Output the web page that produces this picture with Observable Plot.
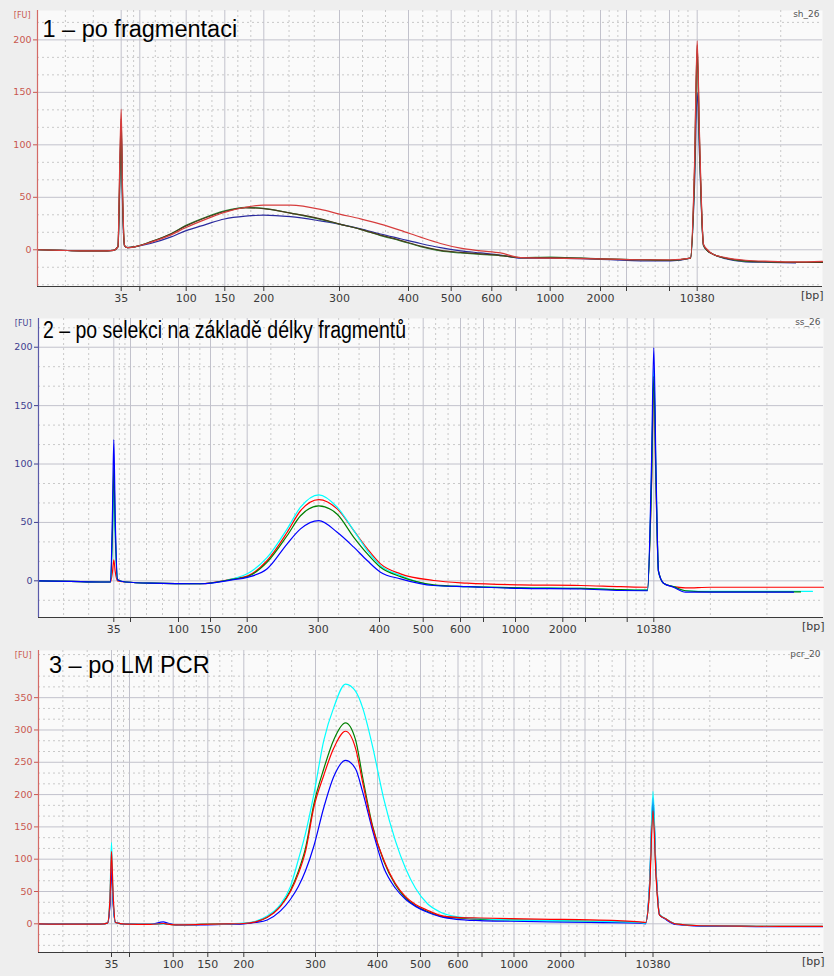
<!DOCTYPE html>
<html>
<head>
<meta charset="utf-8">
<script src="https://cdn.jsdelivr.net/npm/d3@7"></script>
<script src="https://cdn.jsdelivr.net/npm/@observablehq/plot@0.6"></script>
<style>
  html, body { margin: 0; padding: 0; background: #eeeeee; }
  #wrap { position: relative; width: 834px; height: 976px; overflow: hidden; }
  .panel { position: absolute; left: 0; width: 834px; }
  .panel svg { display: block; }
  .title { position: absolute; font-family: "Liberation Sans", Arial, sans-serif; font-size: 23.5px;
           line-height: 23.5px; color: #000; white-space: nowrap; transform-origin: left top; }
</style>
</head>
<body>
<div id="wrap"></div>
<script>
// ---- ladder (size standard) ----
const ladderBp = [35, 50, 100, 150, 200, 300, 400, 500, 600, 700, 1000, 2000, 3000, 7000, 10380];
const labeledBp = [35, 100, 150, 200, 300, 400, 500, 600, 1000, 2000, 10380];

// migration time [s] of each ladder band in the three runs
const ladderTime1 = [28.37, 30.23, 34.87, 38.73, 42.63, 50.2, 57.1, 61.37, 65.43, 67.87, 71.27, 76.3, 78.9, 83.2, 85.97];
const ladderTime2 = [27.53, 29.2, 34.0, 37.2, 40.87, 47.97, 54.1, 58.47, 62.2, 64.5, 67.7, 72.43, 74.7, 78.87, 81.53];
const ladderTime3 = [27.3, 29.1, 33.47, 36.93, 40.53, 47.7, 53.9, 58.2, 61.95, 64.35, 67.55, 72.23, 74.65, 78.72, 81.45];

const timeDomain = [20, 98.5];

// ---- run 1: sh_26 (after fragmentation) ----
const time1 = [20, 22.3, 24.3, 26.3, 27.6, 28.05, 28.2, 28.37, 28.5, 28.7, 29.0, 29.8, 31.3, 33.3, 34.8, 36.8, 38.7, 40.8, 42.6, 45.3,
  48.3, 50.2, 52.3, 54.3, 56.3, 58.3, 60.3, 62.3, 64.3, 66.3, 68.3, 71.3, 74.3, 77.3, 80.3, 83.3, 85.3, 85.7, 85.97, 86.2,
  86.6, 87.0, 87.5, 88.8, 90.8, 93.3, 95.8, 98.5];
const red1 = [0, -0.5, -1, -1, -0.5, 3, 70, 134, 60, 4, 2, 3, 7, 14, 21, 29, 35.6, 40.5, 42.6, 42.5,
  38.5, 34, 29.5, 24.5, 18.5, 12, 6, 1.5, -1, -3, -7.5, -8, -8.5, -9, -9.5, -9.5, -8, 80, 199, 110,
  5, 0, -4, -7.5, -10, -11, -11.5, -11];
const green1 = [0, -0.5, -1, -1, -0.5, 3, 55, 110, 50, 4, 2, 3, 7.5, 15, 23, 31, 37, 40.4, 39.5, 35,
  29, 24.5, 19.5, 13.5, 8.5, 3, -1, -3, -4.5, -5.5, -7.5, -7, -8, -9, -9.5, -10, -8, 70, 185, 100,
  4, -1, -4, -8, -11, -11.5, -12, -12];
const dark1 = [0, -0.5, -1, -1, -0.5, 3, 62, 125, 55, 4, 2, 3, 7.5, 15, 22.5, 30.5, 36.5, 40, 39.2, 35,
  29.5, 24.5, 19.5, 14, 9, 3.5, -0.5, -2.5, -4, -5.5, -7.5, -7.5, -8, -9, -9.5, -10, -8, 75, 195, 105,
  5, -1, -4, -8, -10.5, -11.5, -12, -12];
const blue1 = [0, -0.5, -1, -1, -0.5, 3, 50, 118, 45, 4, 2, 3, 6, 12, 18, 24, 29.3, 32, 33, 31.5,
  27.5, 24.5, 20, 15, 10.5, 6, 2, -1, -3, -5, -8, -8, -8.5, -9.5, -10.5, -10.5, -8, 60, 150, 90,
  4, -1, -4, -8.5, -11.5, -12, -12.5, null];

// ---- run 2: ss_26 (after size selection) ----
const time2 = [20, 23.2, 26.2, 27.2, 27.4, 27.53, 27.67, 27.9, 28.7, 31.2, 36.2, 39.5, 40.87, 42.87, 44.87, 46.2, 48.03, 49.87, 51.53, 52.87,
  54.2, 56.2, 59.53, 62.87, 68.2, 74.2, 78.2, 80.9, 81.3, 81.53, 81.75, 82.0, 82.5, 83.5, 84.7, 87.2, 92.2, 95.5, 96.2, 97.4, 98.5];
const red2 = [0, -0.5, -1, -1, 8, 18, 8, 0, -1, -2, -2.5, 1.7, 4, 17.4, 41.6, 60, 69.6, 61.6, 43, 27.6,
  14.5, 6, 0.3, -2, -3.5, -4, -5, -5.5, 80, 165, 80, 8, -2, -5, -6, -5.5, -5.5, -5.5, -5.5, -5.5, -5.5];
const green2 = [0, -0.5, -1, -1, 45, 97, 45, 1, -1, -2, -2.5, 1.5, 3.5, 16, 38.8, 55.7, 64.2, 57, 37.3, 23.3,
  11.6, 3.6, -3.4, -5, -6, -6.5, -7.5, -8, 85, 175, 85, 8, -2, -5, -8.5, -9.5, -9.5, -9.5, -9.5, null, null];
const cyan2 = [0, -0.5, -1, -1, 40, 85, 40, 1, -1, -2, -2.5, 2, 6, 20, 44.5, 63, 73.6, 63, 43, 26,
  13, 4.5, -4, -5, -6, -6.5, -7.5, -8, 90, 182, 90, 8, -2, -5, -8.5, -9, -9, -9, -9, -9, null];
const blue2 = [0, -0.5, -1, -1, 60, 121, 55, 1, -1, -2, -2.5, 1, 3, 10.3, 31.7, 44.5, 51.6, 41.6, 28.8, 17.4,
  7.4, 1.7, -4, -5, -6.5, -7, -8.3, -8.5, 100, 199.5, 95, 8, -2, -5.5, -9.7, -9.7, -9.7, -9.7, null, null, null];

// ---- run 3: pcr_20 (after LM PCR) ----
const time3 = [20, 23.2, 26.2, 26.9, 27.15, 27.3, 27.45, 27.7, 28.7, 31.2, 32.5, 32.9, 33.7, 36.2, 39.2, 40.5, 41.7, 42.87, 44.2, 45.2,
  46.0, 46.7, 47.53, 48.53, 49.53, 50.7, 51.7, 52.4, 53.4, 54.5, 55.7, 56.7, 57.7, 58.9, 60.2, 61.8, 64.2, 67.2, 71.2, 75.2,
  80.1, 80.7, 81.1, 81.45, 81.75, 82.1, 82.7, 83.7, 86.2, 90.2, 94.2, 98.4];
const cyan3 = [0, -0.5, -0.5, 1, 45, 126, 45, 2, -0.5, -1, 0, -0.5, -1.5, -1, 0, 1, 4, 12, 30, 58,
  100, 140, 200, 284, 335, 371, 360, 335, 275, 195, 128, 86, 55, 31, 18, 11, 8, 6, 5, 4,
  2, 1, 60, 205, 85, 15, 8, 0, -3, -3.5, -4, -4];
const red3 = [0, -0.5, -0.5, 1, 40, 112, 50, 2, -0.5, -1, 0.5, -0.5, -1.5, -1, 0, 0.5, 3, 10, 27, 50,
  78, 112, 180, 230, 272, 298, 272, 220, 150, 100, 62, 42, 30, 21, 13, 10, 9, 8, 7, 6,
  3, 2, 50, 175, 75, 14, 8, 0, -3, -3.5, -4, -4];
const green3 = [0, -0.5, -0.5, 1, 35, 100, 40, 2, -0.5, -1, 0.5, -0.5, -1.5, -1, 0, 0.5, 3, 10, 28, 52,
  82, 117, 185, 240, 285, 311, 285, 228, 152, 98, 60, 40, 28, 19, 12, 9, 7, 6, 5, 4,
  2, 1, 55, 185, 80, 14, 8, 0, -3, -3.5, -4, -4];
const blue3 = [0, -0.5, -0.5, 1, 30, 90, 35, 2, -0.5, -1, 3, 1, -1.5, -1.5, -0.5, 0, 2, 6, 20, 38,
  58, 82, 120, 180, 228, 253, 240, 205, 145, 88, 55, 38, 27, 18, 11, 7, 5, 4, 3, 2,
  1, 0, 60, 195, 85, 14, 7, -1, -3.5, -4, -4.5, -4.5];

const traceColor = {red: "#d63c3c", green: "#2f8a3a", dark: "#4a3a1c", blue: "#2a2a9e", cyan: "#46dcd2"};

const panels = [
  {
    top: 0, height: 308, marginTop: 10, marginBottom: 22, marginLeft: 37, marginRight: 12,
    yDomain: [-35, 228], yTicks: [0, 50, 100, 150, 200], axisColor: "#c9574f", axisLine: "#d46a66",
    ladder: ladderTime1, time: time1, sample: "sh_26",
    series: [["blue", blue1], ["green", green1], ["dark", dark1], ["red", red1]],
    title: "1 – po fragmentaci", titleX: 42.5, titleTop: 17.5, titleWidth: null
  },
  {
    top: 310, height: 330, marginTop: 8, marginBottom: 23, marginLeft: 38, marginRight: 11,
    yDomain: [-31.4, 224.6], yTicks: [0, 50, 100, 150, 200], axisColor: "#3d3d8f", axisLine: "#5a5aaa",
    ladder: ladderTime2, time: time2, sample: "ss_26",
    series: [["red", red2], ["cyan", cyan2], ["green", green2], ["blue", blue2]],
    title: "2 – po selekci na základě délky fragmentů", titleX: 42.5, titleTop: 319, titleWidth: 363
  },
  {
    top: 640, height: 336, marginTop: 10, marginBottom: 24, marginLeft: 38, marginRight: 11,
    yDomain: [-44.4, 423], yTicks: [0, 50, 100, 150, 200, 250, 300, 350], axisColor: "#c9574f", axisLine: "#d46a66",
    ladder: ladderTime3, time: time3, sample: "pcr_20",
    series: [["green", green3], ["blue", blue3], ["cyan", cyan3], ["red", red3]],
    title: "3 – po LM PCR", titleX: 49, titleTop: 653.5, titleWidth: null
  }
];

// minor gridlines: two dashed lines between each pair of neighbouring bounds
function thirds(bounds) {
  const out = [];
  for (let i = 0; i < bounds.length - 1; i++) {
    const a = bounds[i], b = bounds[i + 1];
    out.push(a + (b - a) / 3, a + 2 * (b - a) / 3);
  }
  return out;
}

function electropherogram(p) {
  const [x0, x1] = timeDomain;
  const minorX = thirds([x0, ...p.ladder, x1]);
  const step = 50 / 3;
  const minorY = d3.range(Math.ceil(p.yDomain[0] / step), Math.floor(p.yDomain[1] / step) + 1)
    .map(k => k * step)
    .filter(v => Math.abs(v / 50 - Math.round(v / 50)) > 1e-6);
  const rows = p.series.flatMap(([name, values]) =>
    p.time.map((t, i) => ({t, v: values[i], name})).filter(d => d.v != null));
  const label = new Map(ladderBp.map((bp, i) => [p.ladder[i], labeledBp.includes(bp) ? String(bp) : ""]));
  const names = p.series.map(s => s[0]);

  return Plot.plot({
    width: 834,
    height: p.height,
    marginTop: p.marginTop,
    marginBottom: p.marginBottom,
    marginLeft: p.marginLeft,
    marginRight: p.marginRight,
    style: {background: "transparent", fontFamily: "'DejaVu Sans', sans-serif", overflow: "visible"},
    x: {domain: timeDomain},
    y: {domain: p.yDomain},
    color: {domain: names, range: names.map(n => traceColor[n])},
    marks: [
      Plot.frame({fill: "#fafafa", stroke: null}),
      Plot.ruleX(minorX, {stroke: "#c9c9c9", strokeDasharray: "2,3"}),
      Plot.ruleY(minorY, {stroke: "#c9c9c9", strokeDasharray: "2,3"}),
      Plot.ruleX(p.ladder, {stroke: "#c2c2cc"}),
      Plot.ruleY(p.yTicks, {stroke: "#c2c2cc"}),
      Plot.line(rows, {x: "t", y: "v", z: "name", stroke: "name", strokeWidth: 1.2, curve: "monotone-x"}),
      Plot.ruleY([p.yDomain[0]], {stroke: "#3a3a3a", strokeWidth: 1.2}),
      Plot.ruleX([x0], {stroke: p.axisLine, strokeWidth: 1.2}),
      Plot.axisX(p.ladder, {tickSize: 5, tickPadding: 3, tickFormat: d => label.get(d), color: "#3a3a3a",
        fontSize: 11, label: null}),
      Plot.axisY(p.yTicks, {tickSize: 4, tickPadding: 2, color: p.axisColor, fontSize: 9.5, label: null}),
      Plot.text(["[bp]"], {frameAnchor: "bottom-right", textAnchor: "end", lineAnchor: "top", dy: 5, dx: 1,
        fontSize: 11, fill: "#3a3a3a"}),
      Plot.text(["[FU]"], {frameAnchor: "top-left", textAnchor: "end", lineAnchor: "middle", dx: -7, dy: 5,
        fontSize: 8, fill: p.axisColor}),
      Plot.text([p.sample], {frameAnchor: "top-right", textAnchor: "end", lineAnchor: "middle", dx: -3, dy: 4,
        fontSize: 9, fill: "#555"})
    ]
  });
}

const wrap = document.getElementById("wrap");
for (const p of panels) {
  const div = document.createElement("div");
  div.className = "panel";
  div.style.top = p.top + "px";
  div.style.height = p.height + "px";
  div.appendChild(electropherogram(p));
  wrap.appendChild(div);

  const t = document.createElement("div");
  t.className = "title";
  t.textContent = p.title;
  t.style.left = p.titleX + "px";
  t.style.top = p.titleTop + "px";
  wrap.appendChild(t);
  if (p.titleWidth) {
    const w = t.getBoundingClientRect().width;
    t.style.transform = `scaleX(${p.titleWidth / w})`;
  }
}
</script>
</body>
</html>
